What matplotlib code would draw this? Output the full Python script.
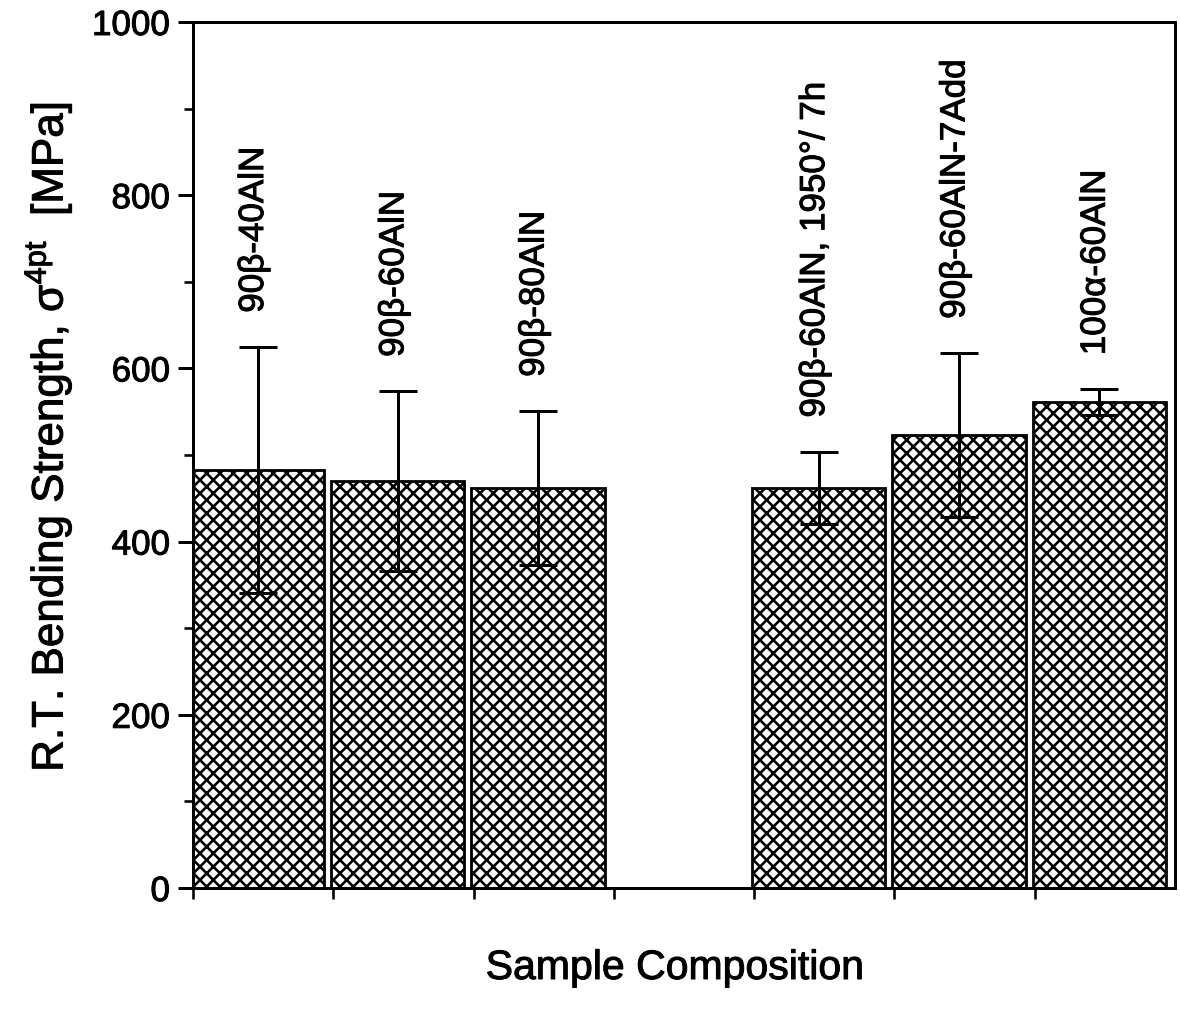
import matplotlib
matplotlib.use("Agg")
import matplotlib.pyplot as plt
import matplotlib.patheffects as pe
from matplotlib.ticker import MultipleLocator
import numpy as np

# ---- data ----
slots = [0, 1, 2, 4, 5, 6]          # slot 3 is empty in the original
labels = ["90β-40AlN", "90β-60AlN", "90β-80AlN",
          "90β-60AlN, 1950°/ 7h", "90β-60AlN-7Add", "100α-60AlN"]
strength = [483, 470, 462, 462, 523, 561]
err = [142, 104, 89, 42, 95, 15]
yticks = [0, 200, 400, 600, 800, 1000]

DPI = 80
PT = 72.0 / DPI   # points per pixel

plt.rcParams['font.family'] = ['Liberation Sans', 'DejaVu Sans']
plt.rcParams['hatch.linewidth'] = 2.6 * PT
plt.rcParams['hatch.color'] = 'black'
plt.rcParams['mathtext.fontset'] = 'custom'
plt.rcParams['mathtext.rm'] = 'Liberation Sans'

heavy = [pe.withStroke(linewidth=0.9, foreground='black')]

fig = plt.figure(figsize=(1180 / DPI, 1012 / DPI), dpi=DPI)
W, H = 1180, 1012
left, right, top, bottom = 193, 1175, 22, 888
ax = fig.add_axes([left / W, 1 - bottom / H, (right - left) / W, (bottom - top) / H])

x = np.array(slots) + 0.46
ax.bar(x, strength, width=0.95, color='white', edgecolor='black',
       linewidth=2.8 * PT, hatch='xx', zorder=2)
ax.errorbar(x, strength, yerr=err, fmt='none', ecolor='black',
            elinewidth=3.0 * PT, capsize=18.5 * PT, capthick=3.0 * PT, zorder=3)

for xi, s, e, lab in zip(x, strength, err, labels):
    ax.annotate(lab, xy=(xi, s + e), xytext=(-4 * PT, 34 * PT),
                textcoords='offset points', rotation=90,
                ha='center', va='bottom', fontsize=35 * PT, color='black',
                path_effects=heavy)

ax.set_xlim(0, 7)
ax.set_ylim(0, 1000)
ax.set_yticks(yticks)
ax.set_yticklabels([str(t) for t in yticks])
ax.yaxis.set_minor_locator(MultipleLocator(100))
ax.set_xticks(range(0, 7))
ax.set_xticklabels([])
for t in ax.get_yticklabels():
    t.set_path_effects(heavy)

for sp in ax.spines.values():
    sp.set_linewidth(3.0 * PT)
    sp.set_zorder(4)

ax.tick_params(axis='y', which='major', direction='out', length=15 * PT,
               width=3.0 * PT, labelsize=35 * PT, pad=8 * PT)
ax.tick_params(axis='y', which='minor', direction='out', length=9 * PT,
               width=2.6 * PT)
ax.tick_params(axis='x', which='major', direction='out', length=11 * PT,
               width=2.6 * PT)

fig.text(48 / W, 1 - 437 / H, "R.T. Bending Strength, σ$^{\\mathregular{4pt}}$  [MPa]",
         rotation=90, ha='center', va='center', fontsize=44 * PT, path_effects=heavy)
fig.text(675 / W, 1 - 968 / H, "Sample Composition",
         ha='center', va='center', fontsize=41 * PT, path_effects=heavy)

fig.savefig("out.png", dpi=DPI, facecolor='white')
